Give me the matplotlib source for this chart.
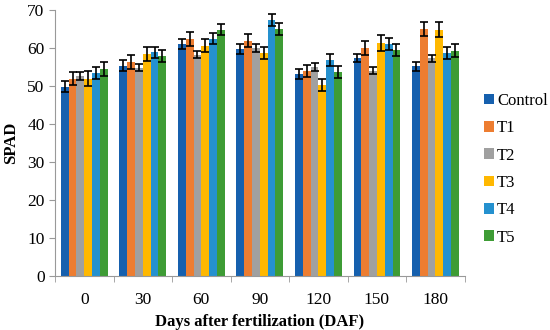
import numpy as np
import matplotlib.pyplot as plt

plt.rcParams['font.family'] = ['Liberation Serif', 'DejaVu Serif']

days = ['0', '30', '60', '90', '120', '150', '180']
names = ['Control', 'T1', 'T2', 'T3', 'T4', 'T5']
colors = ['#1660AE', '#ED7D31', '#A0A0A0', '#FFB800', '#2591CF', '#3E9C35']

control = [49.8, 55.3, 61.0, 59.7, 53.2, 57.3, 55.1]
t1 = [51.9, 56.2, 62.4, 61.9, 53.9, 60.0, 65.0]
t2 = [52.6, 54.8, 58.2, 60.0, 55.0, 54.0, 57.3]
t3 = [51.9, 58.4, 60.6, 58.6, 50.3, 61.3, 64.8]
t4 = [53.4, 58.8, 62.4, 67.3, 56.9, 61.1, 58.7]
t5 = [54.5, 57.8, 64.8, 65.0, 53.7, 59.5, 59.3]

err_control = [1.5, 1.5, 1.3, 1.3, 1.3, 1.1, 1.3]
err_t1 = [1.8, 1.8, 1.8, 1.8, 1.6, 1.8, 1.8]
err_t2 = [1.0, 1.0, 1.0, 1.0, 1.0, 1.0, 0.9]
err_t3 = [1.9, 1.9, 1.8, 1.6, 1.6, 2.0, 1.9]
err_t4 = [1.6, 1.5, 1.5, 1.5, 1.6, 1.6, 1.6]
err_t5 = [1.8, 1.6, 1.5, 1.6, 1.6, 1.6, 1.6]

series = [control, t1, t2, t3, t4, t5]
errors = [err_control, err_t1, err_t2, err_t3, err_t4, err_t5]

fig = plt.figure(figsize=(5.5, 3.3), dpi=100)
ax = fig.add_axes([0.1, 0.165, 0.745, 0.805])

x = np.arange(len(days))
w = 0.8 / len(series)
for i in range(len(series)):
    pos = x - 0.4 + w * (i + 0.5)
    ax.bar(pos, series[i], width=w, color=colors[i], label=names[i],
           yerr=errors[i], capsize=3,
           error_kw=dict(elinewidth=1.2, capthick=1.2, ecolor='black'))

ax.set_xlim(-0.5, len(days) - 0.5)
ax.set_ylim(0, 70)
ax.set_yticks(range(0, 71, 10))
ax.set_xticks(x)
ax.set_xticklabels(days)
ax.set_xticks(np.arange(-0.5, len(days), 1), minor=True)
ax.tick_params(axis='x', which='major', length=0, labelsize=12.5, pad=12)
ax.tick_params(axis='x', which='minor', length=4, color='#999999')
ax.tick_params(axis='y', labelsize=12.5, length=4, color='#999999')

for s in ['top', 'right']:
    ax.spines[s].set_visible(False)
for s in ['left', 'bottom']:
    ax.spines[s].set_color('#999999')

ax.set_xlabel('Days after fertilization (DAF)', fontsize=12, fontweight='bold')
ax.set_ylabel('SPAD', fontsize=12, fontweight='bold', labelpad=6)

ax.legend(loc='center left', bbox_to_anchor=(1.01, 0.40), frameon=False,
          fontsize=12, handlelength=0.6, handleheight=0.6, handletextpad=0.2,
          labelspacing=0.68)

plt.savefig('out.png', dpi=100)
